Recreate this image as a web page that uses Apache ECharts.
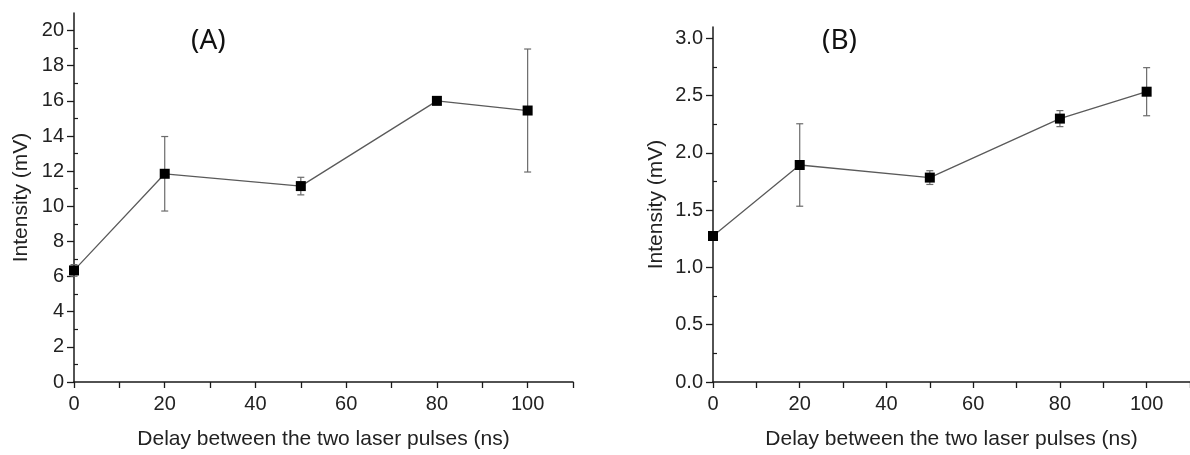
<!DOCTYPE html>
<html>
<head>
<meta charset="utf-8">
<script src="https://cdn.jsdelivr.net/npm/echarts@6/dist/echarts.min.js"></script>
<style>
  html, body { margin: 0; padding: 0; background: #fff; }
  #chart { width: 1190px; height: 455px; }
</style>
</head>
<body>
<div id="chart"></div>
<script>
// delay between the two laser pulses (ns), same for both panels
const delays = [0, 20, 50, 80, 100];

// panel (A): intensity in mV and half length of the error bars
const intensityA = [6.35, 11.85, 11.15, 16.0, 15.45];
const errorA = [0.33, 2.12, 0.5, 0.12, 3.5];

// panel (B)
const intensityB = [1.275, 1.895, 1.785, 2.30, 2.535];
const errorB = [0.03, 0.36, 0.06, 0.07, 0.21];

// tick labels
const xTicks = [0, 20, 40, 60, 80, 100];
const yTicksA = [0, 2, 4, 6, 8, 10, 12, 14, 16, 18, 20];
const yMinorA = [1, 3, 5, 7, 9, 11, 13, 15, 17, 19];
const yTicksB = [0, 0.5, 1.0, 1.5, 2.0, 2.5, 3.0];
const yMinorB = [0.25, 0.75, 1.25, 1.75, 2.25, 2.75];

const axisColor = '#1a1a1a';
const font = 'Liberation Sans, Arial, sans-serif';

function toPoints(vals) {
    return delays.map((d, i) => [d, vals[i]]);
}
function toErrors(vals, errs) {
    return delays.map((d, i) => [d, vals[i] - errs[i], vals[i] + errs[i]]);
}

//误差线
function renderErrorBar(params, api) {
    const x = api.value(0);
    const lo = api.coord([x, api.value(1)]);
    const hi = api.coord([x, api.value(2)]);
    const w = 3.5;
    const style = { stroke: '#6b6b6b', lineWidth: 1.2 };
    return {
        type: 'group',
        children: [
            { type: 'line', shape: { x1: lo[0], y1: lo[1], x2: hi[0], y2: hi[1] }, style: style },
            { type: 'line', shape: { x1: lo[0] - w, y1: lo[1], x2: lo[0] + w, y2: lo[1] }, style: style },
            { type: 'line', shape: { x1: hi[0] - w, y1: hi[1], x2: hi[0] + w, y2: hi[1] }, style: style }
        ]
    };
}

function xAxis(gridIndex) {
    return {
        type: 'value', gridIndex: gridIndex,
        min: 0, max: 110, interval: 10,
        name: 'Delay between the two laser pulses (ns)',
        nameLocation: 'middle', nameGap: 47,
        nameTextStyle: { fontFamily: font, fontSize: 21, color: '#222' },
        axisLine: { show: true, lineStyle: { color: axisColor, width: 1.5 } },
        axisTick: { show: true, length: 6, inside: false, lineStyle: { color: axisColor, width: 1.3 } },
        axisLabel: { customValues: xTicks, margin: 12, fontFamily: font, fontSize: 20, color: '#222' },
        splitLine: { show: false }
    };
}

function yAxisMain(gridIndex, max, ticks, nameGap, fmt) {
    return {
        type: 'value', gridIndex: gridIndex,
        min: 0, max: max,
        name: 'Intensity (mV)',
        nameLocation: 'middle', nameGap: nameGap,
        nameTextStyle: { fontFamily: font, fontSize: 21, color: '#222' },
        axisLine: { show: true, onZero: false, lineStyle: { color: axisColor, width: 1.5 } },
        axisTick: { show: true, length: 7, customValues: ticks, lineStyle: { color: axisColor, width: 1.3 } },
        axisLabel: { customValues: ticks, margin: 10, fontFamily: font, fontSize: 20, color: '#222', formatter: fmt },
        splitLine: { show: false }
    };
}

function yAxisMinor(gridIndex, max, ticks) {
    return {
        type: 'value', gridIndex: gridIndex,
        min: 0, max: max,
        axisLine: { show: false },
        axisTick: { show: true, length: 4, customValues: ticks, lineStyle: { color: axisColor, width: 1.2 } },
        axisLabel: { show: false },
        splitLine: { show: false }
    };
}

const lineStyle = { color: '#5a5a5a', width: 1.3 };

const option = {
    backgroundColor: '#ffffff',
    animation: false,
    title: [
        { text: '(A)', left: 186, top: 22, textStyle: { fontFamily: 'Noto Sans', fontWeight: 'normal', fontSize: 28, color: '#111' } },
        { text: '(B)', left: 817, top: 22, textStyle: { fontFamily: 'Noto Sans', fontWeight: 'normal', fontSize: 28, color: '#111' } }
    ],
    grid: [
        { left: 74, top: 13, right: 617, bottom: 73 },
        { left: 713, top: 27, right: -6, bottom: 71 }
    ],
    xAxis: [xAxis(0), xAxis(1)],
    yAxis: [
        yAxisMain(0, 21, yTicksA, 42, v => String(v)),
        yAxisMinor(0, 21, yMinorA),
        yAxisMain(1, 3.1, yTicksB, 46, v => v.toFixed(1)),
        yAxisMinor(1, 3.1, yMinorB)
    ],
    series: [
        {
            type: 'custom', xAxisIndex: 0, yAxisIndex: 0,
            renderItem: renderErrorBar, data: toErrors(intensityA, errorA), z: 2
        },
        {
            type: 'line', xAxisIndex: 0, yAxisIndex: 0,
            data: toPoints(intensityA),
            symbol: 'rect', symbolSize: 10,
            itemStyle: { color: '#000' }, lineStyle: lineStyle, z: 3
        },
        {
            type: 'custom', xAxisIndex: 1, yAxisIndex: 2,
            renderItem: renderErrorBar, data: toErrors(intensityB, errorB), z: 2
        },
        {
            type: 'line', xAxisIndex: 1, yAxisIndex: 2,
            data: toPoints(intensityB),
            symbol: 'rect', symbolSize: 10,
            itemStyle: { color: '#000' }, lineStyle: lineStyle, z: 3
        }
    ]
};

const chart = echarts.init(document.getElementById('chart'));
chart.setOption(option);
</script>
</body>
</html>
